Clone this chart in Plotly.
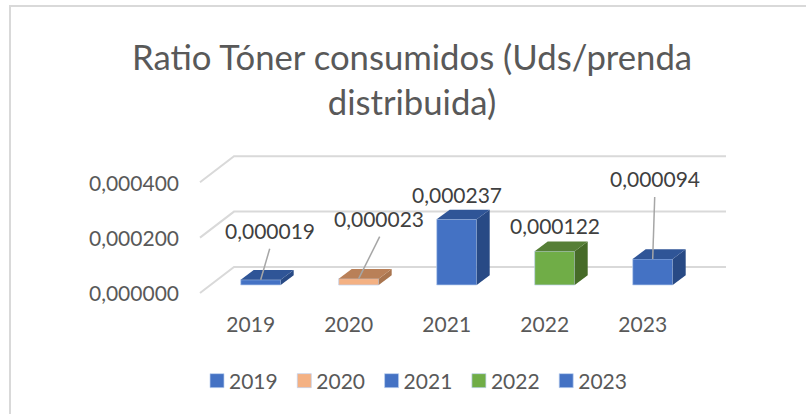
import plotly.graph_objects as go

years = ["2019", "2020", "2021", "2022", "2023"]
values = [0.000019, 0.000023, 0.000237, 0.000122, 0.000094]
value_labels = ["0,000019", "0,000023", "0,000237", "0,000122", "0,000094"]
y_ticks = [0.0, 0.0002, 0.0004]
y_tick_labels = ["0,000000", "0,000200", "0,000400"]
front_colors = ["#4472C4", "#F4B183", "#4472C4", "#70AD47", "#4472C4"]
top_colors = ["#2F5597", "#B98058", "#2F5597", "#567F36", "#2F5597"]
side_colors = ["#284A85", "#A9754F", "#284A85", "#466B28", "#284A85"]
# label offsets (px) from the top-centre of each bar's front face
label_dx = [9, 20, 0, 0, 2]
label_dy = [49, 60, 25, 26, 80]
leader = [((0, 0), (9, 31)), ((0, 0), (21, 42)), None, None, ((0, 0), (2, 62))]

W, H = 806, 414
TEXT = "#595959"
FONT = "Lato"
PX_X = 98.0                 # px per category
PX_Y = 55.4 / 0.0002        # px per unit
PL, PR, PT, PB = 183, 740, 140, 310   # plot box in px
BAR_W = 40 / PX_X
DX, DY = 13 / PX_X, 9.7 / PX_Y


def x_range(zero_px):
    return [(PL - zero_px) / PX_X, (PR - zero_px) / PX_X]


def y_range(zero_px):
    return [-(PB - zero_px) / PX_Y, (zero_px - PT) / PX_Y]


def paper_x(px):
    return (px - PL) / (PR - PL)


def paper_y(px):
    return (PB - px) / (PB - PT)


fig = go.Figure()

# wall and floor lines, on the front plane that carries the axis labels
wall_x = [(200 - 250.7) / PX_X, (234 - 250.7) / PX_X, (726 - 250.7) / PX_X]
front_lift = 1 / PX_Y
wall_rise = 27 / PX_Y
for t in y_ticks:
    fig.add_trace(go.Scatter(
        x=wall_x, y=[t + front_lift, t + wall_rise, t + wall_rise], mode="lines",
        line=dict(color="#D9D9D9", width=2), showlegend=False, hoverinfo="skip",
        cliponaxis=False, xaxis="x", yaxis="y"))

# bars on a plane shifted into the depth of the chart
for i, v in enumerate(values):
    fig.add_trace(go.Bar(
        x=[i], y=[v], width=BAR_W, name=years[i], xaxis="x2", yaxis="y2",
        marker=dict(color=front_colors[i], line=dict(color="rgba(190,210,240,0.7)", width=1)),
        hoverinfo="skip"))
    r = i + BAR_W / 2
    l = i - BAR_W / 2
    fig.add_trace(go.Scatter(
        x=[r, r + DX, r + DX, r, r], y=[0, DY, v + DY, v, 0], mode="lines", fill="toself",
        fillcolor=side_colors[i], line=dict(width=0, color=side_colors[i]),
        showlegend=False, hoverinfo="skip", xaxis="x2", yaxis="y2"))
    fig.add_trace(go.Scatter(
        x=[l, l + DX, r + DX, r, l], y=[v, v + DY, v + DY, v, v], mode="lines", fill="toself",
        fillcolor=top_colors[i], line=dict(width=0, color=top_colors[i]),
        showlegend=False, hoverinfo="skip", xaxis="x2", yaxis="y2"))

annotations = []
shapes = []
for i, v in enumerate(values):
    annotations.append(dict(
        x=i, y=v, xref="x2", yref="y2", text=value_labels[i], showarrow=False,
        xshift=label_dx[i], yshift=label_dy[i], font=dict(family=FONT, size=21, color="#404040")))
    if leader[i]:
        (x0, y0), (x1, y1) = leader[i]
        shapes.append(dict(
            type="line", xref="x2", yref="y2", xsizemode="pixel", ysizemode="pixel",
            xanchor=i, yanchor=v, x0=x0, y0=y0, x1=x1, y1=y1,
            line=dict(color="#A6A6A6", width=1.5)))

# outer frame of the chart (left and top edges only are in view)
shapes.append(dict(
    type="path", xref="paper", yref="paper",
    path=f"M {paper_x(10)} {paper_y(414)} L {paper_x(10)} {paper_y(6)} L {paper_x(806)} {paper_y(6)}",
    line=dict(color="#D9D9D9", width=2)))

fig.update_layout(
    width=W, height=H, autosize=False,
    margin=dict(l=PL, r=W - PR, t=PT, b=H - PB, pad=0),
    paper_bgcolor="white", plot_bgcolor="rgba(0,0,0,0)",
    barmode="overlay",
    title=dict(text="Ratio Tóner consumidos (Uds/prenda<br>distribuida)",
               font=dict(family=FONT, size=34.7, color=TEXT),
               x=paper_x(412), xref="paper", xanchor="center",
               y=1 - 70 / H, yref="container", yanchor="middle"),
    xaxis=dict(range=x_range(250.7), tickmode="array", tickvals=list(range(5)), ticktext=years,
               showgrid=False, zeroline=False, showline=False, ticks="",
               tickfont=dict(family=FONT, size=21, color=TEXT)),
    yaxis=dict(range=y_range(294), tickmode="array", tickvals=y_ticks, ticktext=y_tick_labels,
               showgrid=False, zeroline=False, showline=False, ticks="", ticklabelstandoff=3,
               tickfont=dict(family=FONT, size=21, color=TEXT)),
    xaxis2=dict(range=x_range(260.7), overlaying="x", visible=False),
    yaxis2=dict(range=y_range(285), overlaying="y", visible=False),
    legend=dict(orientation="h", x=paper_x(197), y=paper_y(381), xref="paper", yref="paper",
                xanchor="left", yanchor="middle", entrywidth=42.3, entrywidthmode="pixels",
                itemwidth=30, traceorder="normal", bgcolor="rgba(0,0,0,0)",
                font=dict(family=FONT, size=21, color=TEXT), itemclick=False, itemdoubleclick=False),
    annotations=annotations, shapes=shapes,
)

post = """
document.body.style.margin = '0';
document.querySelectorAll('.legendtext').forEach(function (t) {
  t.setAttribute('x', parseFloat(t.getAttribute('x')) - 8);
});
document.querySelectorAll('.legendpoints path').forEach(function (p) {
  p.setAttribute('d', 'M7,7H-7V-7H7Z');
});
"""
fig.write_html("out.html", config=dict(displayModeBar=False), post_script=post)
